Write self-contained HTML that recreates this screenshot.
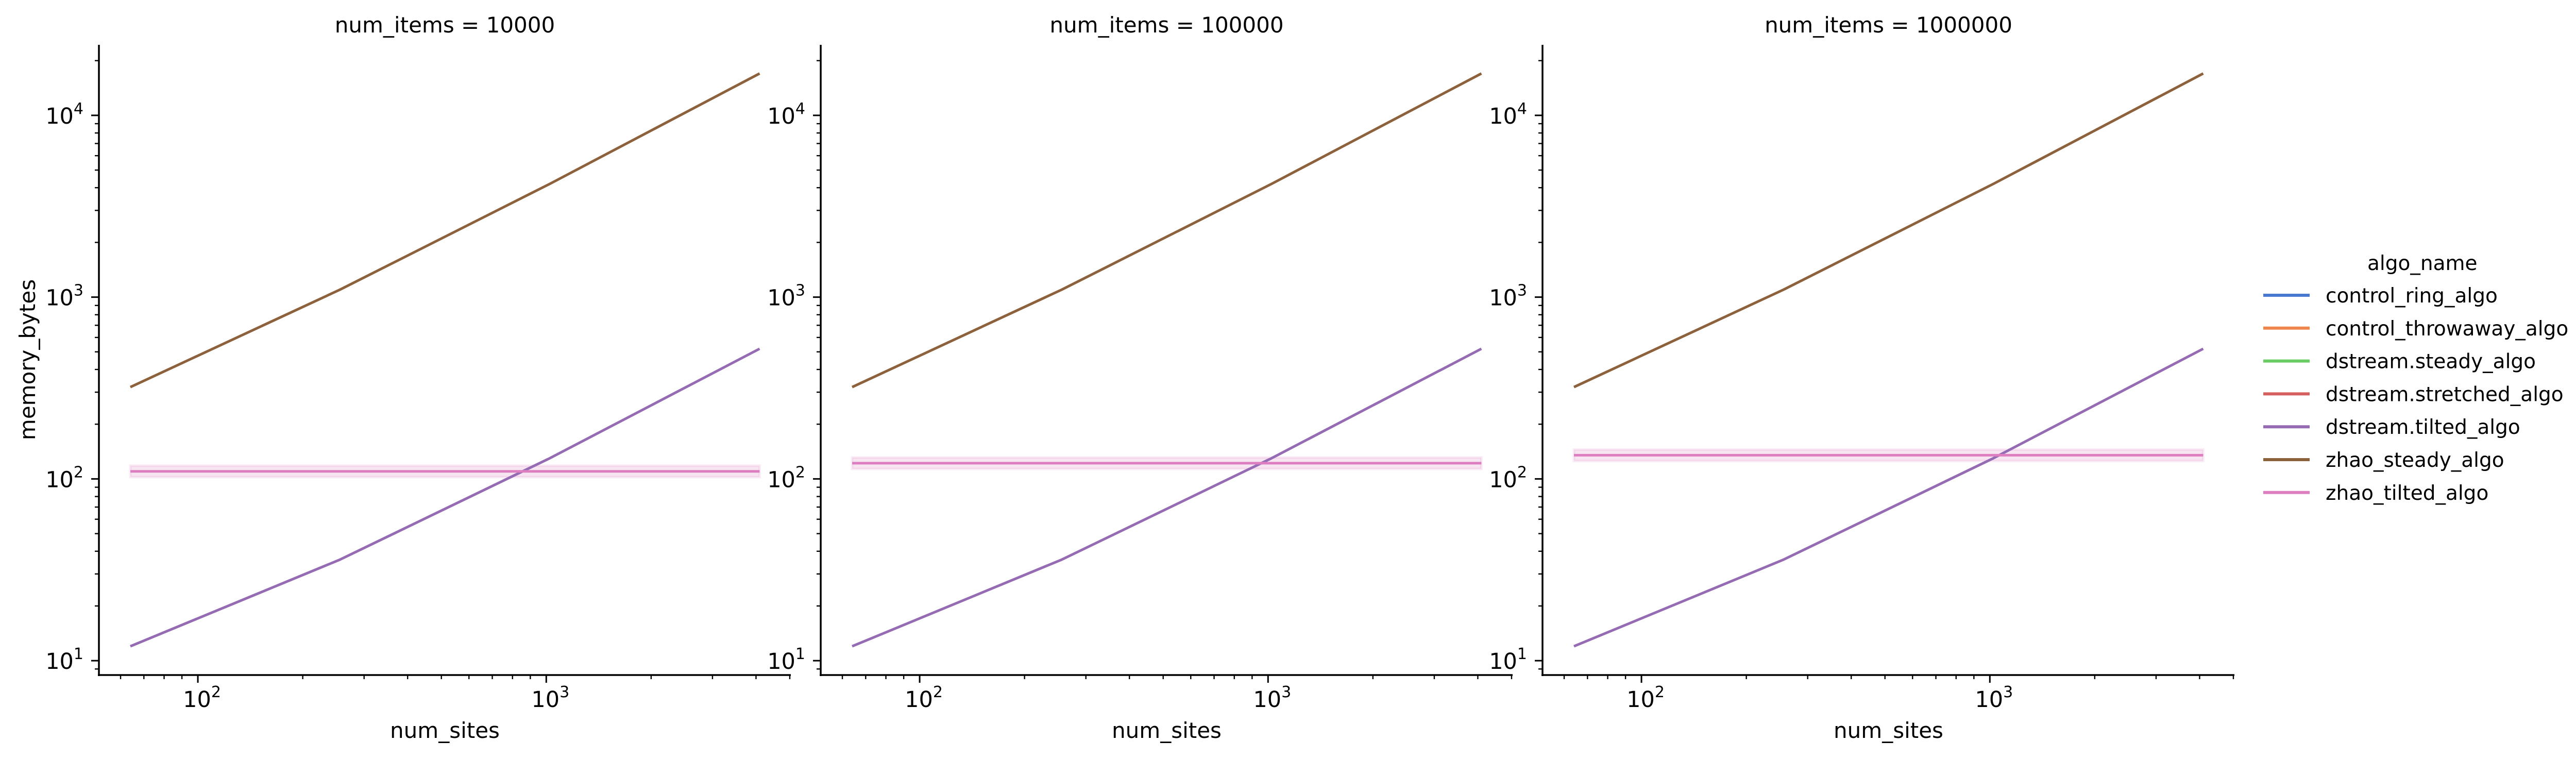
<!DOCTYPE html>
<html><head><meta charset="utf-8"><style>
html,body{margin:0;padding:0;background:#fff;overflow:hidden;}
svg{display:block;font-family:"DejaVu Sans","Liberation Sans",sans-serif;}
</style></head><body>
<svg id="chart" width="5053" height="1471" viewBox="0 0 5053 1471" xmlns="http://www.w3.org/2000/svg"></svg>
<script>
const numSites = [64, 256, 1024, 4096];
const panelTitles = ["num_items = 10000", "num_items = 100000", "num_items = 1000000"];
const zhaoSteady = [[320, 1100, 4200, 17000], [320, 1100, 4200, 17000], [320, 1100, 4200, 17000]];
const dstreamTilted = [[12, 36, 130, 520], [12, 36, 130, 520], [12, 36, 130, 520]];
const zhaoTilted = [[110, 110, 110, 110], [122, 122, 122, 122], [135, 135, 135, 135]];
const zhaoTiltedErr = [0.075, 0.075, 0.075];
const xTickExps = [2, 3];
const yTickExps = [1, 2, 3, 4];
const legendNames = ["control_ring_algo","control_throwaway_algo","dstream.steady_algo","dstream.stretched_algo","dstream.tilted_algo","zhao_steady_algo","zhao_tilted_algo"];
const legendColors = ["#4878d0","#ee854a","#6acc64","#d65f5f","#956cb4","#8c613c","#dc7ec0"];

const NS = "http://www.w3.org/2000/svg";
const svg = document.getElementById("chart");
function mk(tag, attrs, parent) {
  const e = document.createElementNS(NS, tag);
  for (const k in attrs) e.setAttribute(k, attrs[k]);
  (parent || svg).appendChild(e);
  return e;
}
const panelLefts = [192, 1593, 2994];
const PW = 1343, TOP = 87, BOT = 1310;
const xLogMin = 1.716, xLogMax = 3.702;
const yLogMin = 0.921, yLogMax = 4.388;

panelTitles.forEach((title, p) => {
  const L = panelLefts[p];
  const xs = v => L + (Math.log10(v) - xLogMin) / (xLogMax - xLogMin) * PW;
  const ys = v => BOT - (Math.log10(v) - yLogMin) / (yLogMax - yLogMin) * (BOT - TOP);
  const g = mk("g", {});
  
  

  const t = mk("text", {x: L + PW / 2, y: 63, "text-anchor": "middle", "font-size": 42}, g);
  t.textContent = title;
  
  

  const e = zhaoTiltedErr[p];
  const band = mk("rect", {x: xs(numSites[0]), y: ys(zhaoTilted[p][0] * (1 + e)), width: xs(numSites[3]) - xs(numSites[0]),
    height: ys(zhaoTilted[p][0] / (1 + e)) - ys(zhaoTilted[p][0] * (1 + e)), fill: "#dc7ec0", "fill-opacity": 0.2, stroke: "#dc7ec0", "stroke-opacity": 0.15, "stroke-width": 5}, g);
  
  

  const series = [[zhaoSteady[p], "#8c613c", "zhao-steady-line"], [dstreamTilted[p], "#956cb4", "dstream-tilted-line"], [zhaoTilted[p], "#dc7ec0", "zhao-tilted-line"]];
  series.forEach(([vals, col, name]) => {
    const pts = vals.map((v, i) => xs(numSites[i]).toFixed(1) + "," + ys(v).toFixed(1)).join(" ");
    const pl = mk("polyline", {points: pts, fill: "none", stroke: col, "stroke-width": 5, "stroke-linejoin": "round"}, g);
    
    
  });

  const ax = mk("g", {stroke: "#000"}, g);
  
  
  mk("line", {x1: L, y1: TOP, x2: L, y2: BOT + 2, "stroke-width": 3.5}, ax);
  mk("line", {x1: L - 2, y1: BOT, x2: L + PW, y2: BOT, "stroke-width": 3.5}, ax);
  for (let k = 0; k <= 4; k++) for (let m = 1; m <= 9; m++) {
    const lv = k + Math.log10(m);
    if (lv < yLogMin || lv > yLogMax) continue;
    const y = ys(Math.pow(10, lv));
    mk("line", {x1: L - (m === 1 ? 15 : 8), y1: y, x2: L, y2: y, "stroke-width": m === 1 ? 3 : 2.4}, ax);
  }
  for (let k = 1; k <= 3; k++) for (let m = 1; m <= 9; m++) {
    const lv = k + Math.log10(m);
    if (lv < xLogMin || lv > xLogMax) continue;
    const x = xs(Math.pow(10, lv));
    mk("line", {x1: x, y1: BOT, x2: x, y2: BOT + (m === 1 ? 15 : 8), "stroke-width": m === 1 ? 3 : 2.4}, ax);
  }
  yTickExps.forEach(ex => {
    const y = ys(Math.pow(10, ex));
    const tx = mk("text", {x: L - 30, y: y + 16, "text-anchor": "end", "font-size": 43}, g);
    tx.innerHTML = '10<tspan font-size="30" dy="-19">' + ex + '</tspan>';
    
    
  });
  xTickExps.forEach(ex => {
    const x = xs(Math.pow(10, ex));
    const tx = mk("text", {x: x + 8, y: 1372, "text-anchor": "middle", "font-size": 43}, g);
    tx.innerHTML = '10<tspan font-size="30" dy="-19">' + ex + '</tspan>';
    
    
  });
  const xl = mk("text", {x: L + PW / 2, y: 1432, "text-anchor": "middle", "font-size": 42}, g);
  xl.textContent = "num_sites";
  
  
});

const yl = mk("text", {x: 0, y: 0, "text-anchor": "middle", "font-size": 42, transform: "translate(68,698) rotate(-90)"});
yl.textContent = "memory_bytes";



const lg = mk("g", {});


const lt = mk("text", {x: 4595, y: 524, "font-size": 39}, lg);
lt.textContent = "algo_name";


legendNames.forEach((n, i) => {
  const y = 573 + i * 63.8;
  const eg = mk("g", {}, lg);
  
  
  mk("line", {x1: 4393, y1: y, x2: 4483, y2: y, stroke: legendColors[i], "stroke-width": 6}, eg);
  const tx = mk("text", {x: 4514, y: y + 14, "font-size": 39}, eg);
  tx.textContent = n;
});
</script>
</body></html>
